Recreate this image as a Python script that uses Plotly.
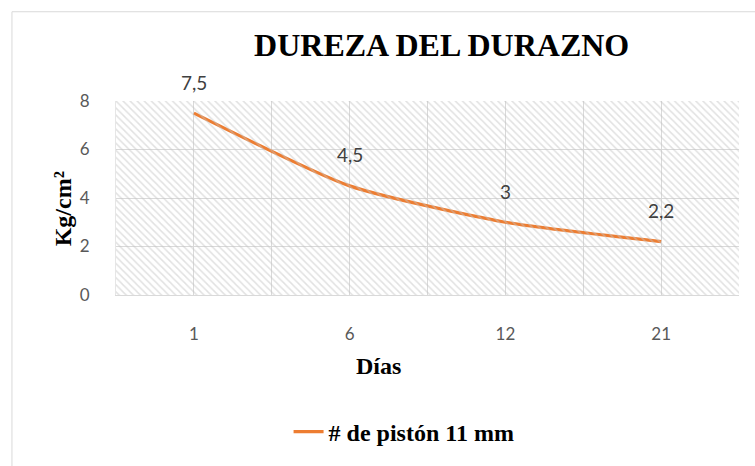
import plotly.graph_objects as go

days = ["1", "6", "12", "21"]
hardness = [7.5, 4.5, 3.0, 2.2]
hardness_labels = ["7,5", "4,5", "3", "2,2"]
series_name = "# de pistón 11 mm"
y_ticks = [0, 2, 4, 6, 8]

xi = list(range(len(days)))

fig = go.Figure()

# hatched plot-area background (decoration)
fig.add_trace(go.Scatter(
    x=[0, 1, 1, 0, 0], y=[0, 0, 1, 1, 0], xaxis="x2", yaxis="y2",
    mode="none", fill="toself", fillcolor="rgba(0,0,0,0)",
    fillpattern=dict(shape="\\", fgcolor="#c4c4c4", bgcolor="rgba(0,0,0,0)",
                     size=5, solidity=0.3),
    hoverinfo="skip", showlegend=False))

fig.add_trace(go.Scatter(
    x=xi, y=hardness, mode="lines", name="<b>" + series_name + "</b>",
    line=dict(color="#ED7D31", width=3.25, shape="spline", smoothing=0.6)))

for x, y, t in zip(xi, hardness, hardness_labels):
    fig.add_annotation(x=x, y=y, text=t, showarrow=False, yshift=31,
                       font=dict(family="Lato, Open Sans", size=19, color="#404040"))

serif = "Liberation Serif, Times New Roman, serif"
fig.add_annotation(text="<b>Días</b>", xref="paper", yref="paper", x=0.422, y=-0.365,
                   xanchor="center", yanchor="middle", showarrow=False,
                   font=dict(family=serif, size=24, color="#000000"))
fig.add_annotation(text="<b>Kg/cm²</b>", xref="paper", yref="paper", x=-0.085, y=0.442,
                   xanchor="center", yanchor="middle", showarrow=False, textangle=-90,
                   font=dict(family=serif, size=24, color="#000000"))

fig.update_layout(
    width=755, height=466,
    margin=dict(l=116, r=16, t=101, b=167),
    paper_bgcolor="white", plot_bgcolor="white",
    title=dict(text="<b>DUREZA DEL DURAZNO</b>", x=0.585, xanchor="center",
               y=0.9045, yanchor="middle",
               font=dict(family=serif, size=32, color="#000000")),
    xaxis=dict(range=[-0.5, 3.5], tickvals=xi, ticktext=days, automargin=False,
               showgrid=True, gridcolor="#d9d9d9", gridwidth=1,
               minor=dict(dtick=0.5, tick0=0, showgrid=True, gridcolor="#d9d9d9"),
               showline=True, linecolor="#d9d9d9", zeroline=False,
               ticks="outside", ticklen=24, tickcolor="rgba(0,0,0,0)",
               tickfont=dict(family="Lato, Open Sans", size=17, color="#595959"),
               fixedrange=True),
    yaxis=dict(range=[0, 8], tickvals=y_ticks, showgrid=True, gridcolor="#d9d9d9",
               automargin=False,
               zeroline=False, showline=True, linecolor="#e6e6e6",
               ticks="outside", ticklen=22, tickcolor="rgba(0,0,0,0)",
               tickfont=dict(family="Lato, Open Sans", size=17, color="#595959"),
               fixedrange=True),
    xaxis2=dict(overlaying="x", range=[0, 1], visible=False, fixedrange=True),
    yaxis2=dict(overlaying="y", range=[0, 1], visible=False, fixedrange=True),
    showlegend=True,
    legend=dict(orientation="h", x=0.277, xanchor="left", y=-0.706, yanchor="middle",
                font=dict(family=serif, size=24, color="#000000"),
                bgcolor="rgba(0,0,0,0)"),
)

fig.add_shape(type="rect", xref="paper", yref="paper",
              x0=-0.167, x1=1.05, y0=-0.9, y1=1.46,
              line=dict(color="#d9d9d9", width=1), fillcolor="rgba(0,0,0,0)", layer="below")

fig.write_html("out.html", config={"displayModeBar": False},
               post_script="document.body.style.margin='0';")
